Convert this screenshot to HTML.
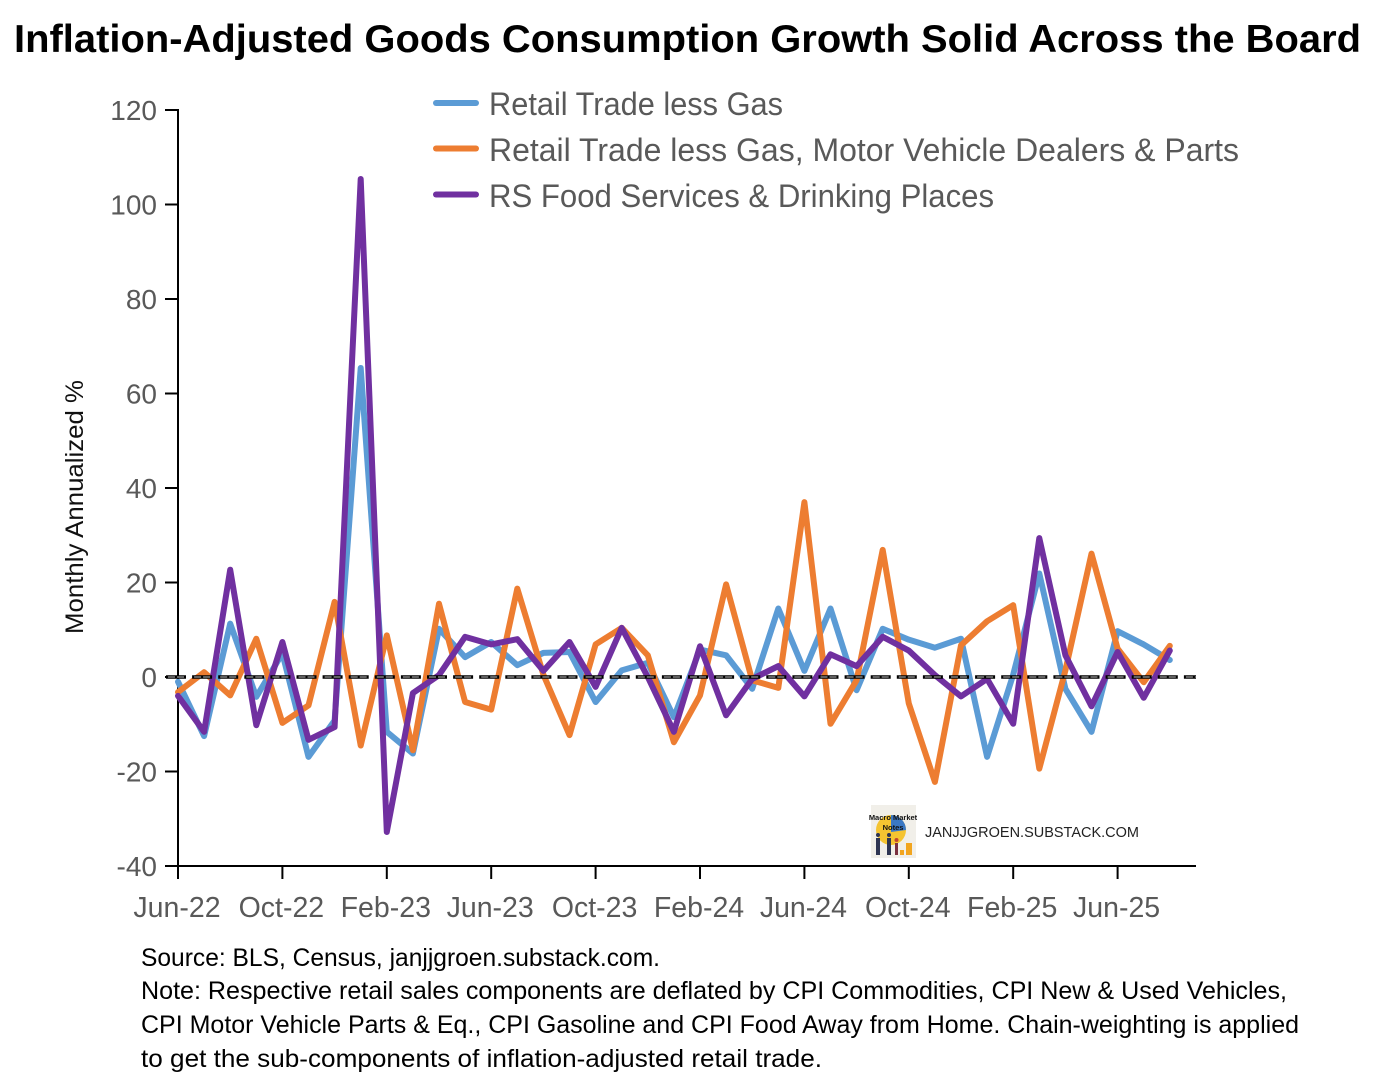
<!DOCTYPE html>
<html lang="en">
<head>
<meta charset="utf-8">
<title>Inflation-Adjusted Goods Consumption Growth</title>
<style>
html,body{margin:0;padding:0;background:#fff;width:1376px;height:1080px;overflow:hidden}
svg{display:block}
text{font-family:"Liberation Sans",Arial,sans-serif}
</style>
</head>
<body>
<svg id="chart" xmlns="http://www.w3.org/2000/svg" width="1376" height="1080" viewBox="0 0 1376 1080">
  <rect width="1376" height="1080" fill="#fff"/>
  <text x="14" y="52" font-size="39" font-weight="700" fill="#000" textLength="1347" lengthAdjust="spacingAndGlyphs">Inflation-Adjusted Goods Consumption Growth Solid Across the Board</text>
  <g id="axes"></g>
  <text transform="translate(83,634) rotate(-90)" font-size="25" fill="#111" textLength="254" lengthAdjust="spacingAndGlyphs">Monthly Annualized %</text>
  <g id="series"></g>
  <g id="zero"></g>

  <g>
    <g>
      <line x1="436" x2="476" y1="103" y2="103" stroke="#5B9BD5" stroke-width="6" stroke-linecap="round"/>
      <text x="489" y="115" font-size="32" fill="#595959" textLength="294" lengthAdjust="spacingAndGlyphs">Retail Trade less Gas</text>
    </g>
    <g>
      <line x1="436" x2="476" y1="148.500" y2="148.500" stroke="#ED7D31" stroke-width="6" stroke-linecap="round"/>
      <text x="489" y="161" font-size="32" fill="#595959" textLength="750" lengthAdjust="spacingAndGlyphs">Retail Trade less Gas, Motor Vehicle Dealers &amp; Parts</text>
    </g>
    <g>
      <line x1="436" x2="476" y1="194.500" y2="194.500" stroke="#7030A0" stroke-width="6" stroke-linecap="round"/>
      <text x="489" y="207" font-size="32" fill="#595959" textLength="505" lengthAdjust="spacingAndGlyphs">RS Food Services &amp; Drinking Places</text>
    </g>
  </g>

  <g>
    <g>
      <rect x="871" y="805" width="45" height="53" fill="#f1efe9"/>
      <circle cx="891" cy="830" r="15" fill="#f5c431"/>
      <path d="M891 815a15 15 0 0 1 15 15l-15 2z" fill="#3b78c4"/>
      <rect x="906" y="843" width="6" height="12" fill="#f2a51f"/>
      <rect x="900" y="850" width="4" height="5" fill="#f2a51f"/>
      <rect x="876" y="838" width="4" height="17" fill="#2e3552"/>
      <rect x="887" y="838" width="4" height="17" fill="#2e3552"/>
      <rect x="895" y="843" width="3" height="12" fill="#7a3040"/>
      <circle cx="878" cy="835" r="2" fill="#2e3552"/>
      <circle cx="889" cy="835" r="2" fill="#2e3552"/>
      <circle cx="896.500" cy="840" r="2" fill="#c2452d"/>
      <text x="893" y="820" font-size="7.500" font-weight="700" fill="#111" text-anchor="middle">Macro Market</text>
      <text x="893" y="830" font-size="7.500" font-weight="700" fill="#111" text-anchor="middle">Notes</text>
    </g>
    <text x="925" y="837" font-size="15" fill="#222" textLength="214" lengthAdjust="spacingAndGlyphs">JANJJGROEN.SUBSTACK.COM</text>
  </g>

  <g font-size="25" fill="#000">
    <text x="141" y="966" textLength="519" lengthAdjust="spacingAndGlyphs">Source: BLS, Census, janjjgroen.substack.com.</text>
    <text x="141" y="999" textLength="1146" lengthAdjust="spacingAndGlyphs">Note: Respective retail sales components are deflated by CPI Commodities, CPI New &amp; Used Vehicles,</text>
    <text x="141" y="1033" textLength="1158" lengthAdjust="spacingAndGlyphs">CPI Motor Vehicle Parts &amp; Eq., CPI Gasoline and CPI Food Away from Home. Chain-weighting is applied</text>
    <text x="141" y="1067" textLength="681" lengthAdjust="spacingAndGlyphs">to get the sub-components of inflation-adjusted retail trade.</text>
  </g>
</svg>
<script>
const months = ["Jun-22","Jul-22","Aug-22","Sep-22","Oct-22","Nov-22","Dec-22","Jan-23","Feb-23","Mar-23","Apr-23","May-23","Jun-23","Jul-23","Aug-23","Sep-23","Oct-23","Nov-23","Dec-23","Jan-24","Feb-24","Mar-24","Apr-24","May-24","Jun-24","Jul-24","Aug-24","Sep-24","Oct-24","Nov-24","Dec-24","Jan-25","Feb-25","Mar-25","Apr-25","May-25","Jun-25","Jul-25","Aug-25"];
const yTicks = [120,100,80,60,40,20,0,-20,-40];
const retailLessGas = [-1,-12.5,11.3,-4.2,5,-16.9,-9.2,65.4,-11.6,-16.2,10.2,4.2,7.4,2.5,5.1,5.3,-5.3,1.4,3,-8.5,5.8,4.6,-2.5,14.5,1.3,14.5,-2.8,10.2,7.9,6.2,8.1,-16.9,0.5,21.9,-2.5,-11.6,9.7,6.9,3.6];
const retailLessGasMotor = [-3.2,1,-3.9,8.1,-9.7,-6,15.9,-14.5,8.8,-15.5,15.5,-5.3,-6.9,18.7,0.5,-12.3,6.9,10.4,4.6,-13.8,-3.9,19.6,-0.7,-2.3,37,-9.9,-0.7,26.9,-5.6,-22.2,6.7,11.8,15.2,-19.4,1.4,26.1,6,-1.1,6.6];
const foodServices = [-4,-11.6,22.7,-10.2,7.4,-13.3,-10.6,105.4,-32.8,-3.4,0.4,8.5,6.9,8,1.3,7.4,-2.1,10.4,0,-11.6,6.5,-8.1,-0.4,2.3,-4.1,4.8,2.3,8.5,5.6,0.4,-4.1,-0.4,-9.9,29.4,4.6,-6.2,5.3,-4.4,5.6];
const zeroValue = 0;

const SVGNS = "http://www.w3.org/2000/svg";
const xScale = i => 178 + i * 26.1;
const yScale = v => 677 - v * (756 / 160);

function make(tag, attrs, parent, text) {
  const el = document.createElementNS(SVGNS, tag);
  for (const k in attrs) el.setAttribute(k, attrs[k]);
  if (text !== undefined) el.textContent = text;
  parent.appendChild(el);
  return el;
}

const axes = document.getElementById("axes");
const yAxisLine = make("line", {x1:178, x2:178, y1:yScale(120)-1, y2:879, stroke:"#000", "stroke-width":2}, axes);


const xAxisLine = make("line", {x1:165, x2:1196, y1:yScale(-40), y2:yScale(-40), stroke:"#000", "stroke-width":2}, axes);



yTicks.forEach(v => {
  const t = make("line", {x1:165, x2:178, y1:yScale(v), y2:yScale(v), stroke:"#000", "stroke-width":2}, axes);
  
  
  const l = make("text", {x:157, y:yScale(v)+10, "font-size":28, fill:"#595959", "text-anchor":"end"}, axes, String(v));
  
  
});

months.forEach((m, i) => {
  if (i % 4 !== 0) return;
  const t = make("line", {x1:xScale(i), x2:xScale(i), y1:yScale(-40), y2:879, stroke:"#000", "stroke-width":2}, axes);
  
  
  const l = make("text", {x:xScale(i)-1, y:917, "font-size":28.500, fill:"#595959", "text-anchor":"middle"}, axes, m);
  
  
});

function linePoints(values) {
  return values.map((v, i) => xScale(i).toFixed(2) + "," + yScale(v).toFixed(2)).join(" ");
}
const seriesGroup = document.getElementById("series");
const lineStyle = {fill:"none", "stroke-width":6, "stroke-linejoin":"round", "stroke-linecap":"round"};

const blueLine = make("polyline", Object.assign({points:linePoints(retailLessGas), stroke:"#5B9BD5"}, lineStyle), seriesGroup);


const orangeLine = make("polyline", Object.assign({points:linePoints(retailLessGasMotor), stroke:"#ED7D31"}, lineStyle), seriesGroup);


const purpleLine = make("polyline", Object.assign({points:linePoints(foodServices), stroke:"#7030A0"}, lineStyle), seriesGroup);



const zeroGroup = document.getElementById("zero");
const zeroBlack = make("line", {x1:166, x2:1196, y1:yScale(zeroValue), y2:yScale(zeroValue), stroke:"#000", "stroke-width":3.4, "stroke-dasharray":"20 6.1", "stroke-linecap":"butt"}, zeroGroup);


const zeroWhite = make("line", {x1:168, x2:1196, y1:yScale(zeroValue), y2:yScale(zeroValue), stroke:"#fff", "stroke-width":0.8, "stroke-dasharray":"7 2 7 10.1"}, zeroGroup);


</script>
</body>
</html>
